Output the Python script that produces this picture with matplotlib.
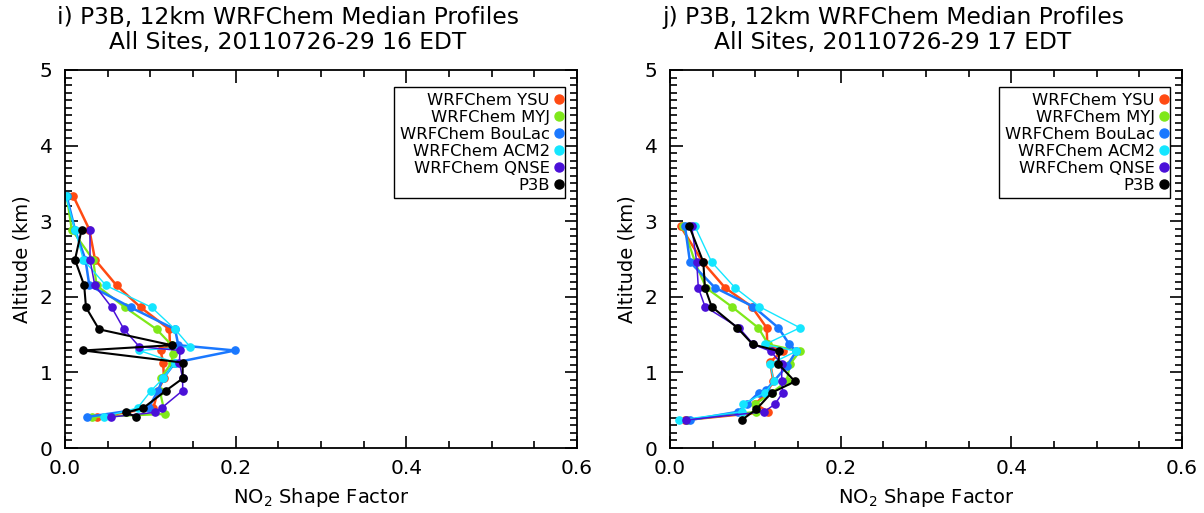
import matplotlib
matplotlib.use("Agg")
import matplotlib.pyplot as plt
from matplotlib.ticker import MultipleLocator

# ---------------- data ----------------
series_names = ["WRFChem YSU", "WRFChem MYJ", "WRFChem BouLac",
                "WRFChem ACM2", "WRFChem QNSE", "P3B"]
series_colors = ["#ff4a12", "#7fe81a", "#1a78ff", "#14e6ff", "#4a10d8", "#000000"]
series_lw = [1.8, 1.6, 1.8, 1.0, 1.1, 1.5]

titles = ["i) P3B, 12km WRFChem Median Profiles\nAll Sites, 20110726-29 16 EDT",
          "j) P3B, 12km WRFChem Median Profiles\nAll Sites, 20110726-29 17 EDT"]

# Panel i (16 EDT): shape factor values and altitudes (km)
i_ysu_x = [0.0098, 0.0285, 0.0352, 0.0605, 0.0887, 0.1223, 0.1230, 0.1120, 0.1150, 0.1160, 0.1090, 0.1035, 0.0371]
i_ysu_y = [3.33, 2.89, 2.49, 2.15, 1.86, 1.57, 1.36, 1.29, 1.13, 0.92, 0.76, 0.53, 0.41]
i_myj_x = [0.0020, 0.0078, 0.0330, 0.0371, 0.0703, 0.1074, 0.1250, 0.1260, 0.1250, 0.1120, 0.1110, 0.1172, 0.0320]
i_myj_y = [3.33, 2.89, 2.49, 2.15, 1.86, 1.57, 1.36, 1.25, 1.13, 0.92, 0.76, 0.45, 0.41]
i_bou_x = [0.0020, 0.0117, 0.0240, 0.0285, 0.0770, 0.1290, 0.1328, 0.1992, 0.1290, 0.1150, 0.1090, 0.0980, 0.0254]
i_bou_y = [3.33, 2.89, 2.49, 2.15, 1.86, 1.57, 1.36, 1.29, 1.13, 0.92, 0.76, 0.53, 0.41]
i_acm_x = [0.0010, 0.0117, 0.0215, 0.0480, 0.1016, 0.1290, 0.1465, 0.0871, 0.1290, 0.1150, 0.1010, 0.0850, 0.0457]
i_acm_y = [3.33, 2.89, 2.49, 2.15, 1.86, 1.57, 1.34, 1.29, 1.13, 0.92, 0.76, 0.53, 0.41]
i_qnse_x = [0.0293, 0.0293, 0.0350, 0.0547, 0.0691, 0.0871, 0.1348, 0.1340, 0.1379, 0.1379, 0.1133, 0.1050, 0.0539]
i_qnse_y = [2.89, 2.49, 2.15, 1.86, 1.57, 1.34, 1.29, 1.13, 0.92, 0.76, 0.53, 0.47, 0.41]
i_p3b_x = [0.0195, 0.0117, 0.0225, 0.0246, 0.0398, 0.1250, 0.0215, 0.1379, 0.1379, 0.1184, 0.0918, 0.0720, 0.0832]
i_p3b_y = [2.89, 2.49, 2.15, 1.86, 1.57, 1.36, 1.29, 1.13, 0.92, 0.76, 0.53, 0.47, 0.41]

# Panel j (17 EDT)
j_ysu_x = [0.0125, 0.0383, 0.0645, 0.0957, 0.1133, 0.1140, 0.1320, 0.1172, 0.1211, 0.1130, 0.1000, 0.1150, 0.0176]
j_ysu_y = [2.93, 2.46, 2.12, 1.87, 1.59, 1.37, 1.28, 1.14, 0.88, 0.73, 0.58, 0.48, 0.37]
j_myj_x = [0.0156, 0.0293, 0.0422, 0.0723, 0.1035, 0.1152, 0.1523, 0.1406, 0.1367, 0.1190, 0.1000, 0.1010, 0.0195]
j_myj_y = [2.93, 2.46, 2.12, 1.87, 1.59, 1.37, 1.28, 1.11, 0.88, 0.73, 0.58, 0.48, 0.37]
j_bou_x = [0.0176, 0.0234, 0.0527, 0.0977, 0.1270, 0.1400, 0.1480, 0.1367, 0.1130, 0.1040, 0.0900, 0.0800, 0.0234]
j_bou_y = [2.93, 2.46, 2.12, 1.87, 1.59, 1.37, 1.28, 1.08, 0.77, 0.73, 0.58, 0.48, 0.37]
j_acm_x = [0.0293, 0.0488, 0.0762, 0.1047, 0.1523, 0.1113, 0.1480, 0.1172, 0.1219, 0.1113, 0.0852, 0.0840, 0.0109]
j_acm_y = [2.93, 2.46, 2.12, 1.87, 1.59, 1.37, 1.28, 1.11, 0.88, 0.73, 0.58, 0.48, 0.37]
j_qnse_x = [0.0254, 0.0313, 0.0332, 0.0410, 0.0810, 0.0977, 0.1180, 0.1309, 0.1309, 0.1320, 0.1230, 0.1105, 0.0186]
j_qnse_y = [2.93, 2.46, 2.12, 1.87, 1.59, 1.37, 1.28, 1.11, 0.88, 0.73, 0.58, 0.48, 0.37]
j_p3b_x = [0.0227, 0.0390, 0.0410, 0.0488, 0.0789, 0.0970, 0.1280, 0.1270, 0.1465, 0.1190, 0.1010, 0.0840]
j_p3b_y = [2.93, 2.46, 2.12, 1.87, 1.59, 1.37, 1.28, 1.11, 0.88, 0.73, 0.51, 0.37]

panel_i = [(i_ysu_x, i_ysu_y), (i_myj_x, i_myj_y), (i_bou_x, i_bou_y),
           (i_acm_x, i_acm_y), (i_qnse_x, i_qnse_y), (i_p3b_x, i_p3b_y)]
panel_j = [(j_ysu_x, j_ysu_y), (j_myj_x, j_myj_y), (j_bou_x, j_bou_y),
           (j_acm_x, j_acm_y), (j_qnse_x, j_qnse_y), (j_p3b_x, j_p3b_y)]

x_ticks = [0.0, 0.2, 0.4, 0.6]
x_ticklabels = ["0.0", "0.2", "0.4", "0.6"]
y_ticks = [0, 1, 2, 3, 4, 5]

# ---------------- plotting ----------------
plt.rcParams["font.family"] = ["DejaVu Sans"]
fig = plt.figure(figsize=(12.04, 5.13), dpi=100)
W, H = 1204, 513
ax_boxes = [(65, 70, 577, 448), (670, 70, 1182, 448)]
title_cx = [288, 893]

for k, (panel, title) in enumerate(zip([panel_i, panel_j], titles)):
    x0, y0, x1, y1 = ax_boxes[k]
    ax = fig.add_axes([x0 / W, 1 - y1 / H, (x1 - x0) / W, (y1 - y0) / H])
    for (xs, ys), name, c, lw in zip(panel, series_names, series_colors, series_lw):
        ax.plot(xs, ys, color=c, lw=lw, marker="o", ms=5.2, mec=c, mfc=c,
                label=name)
    ax.set_xlim(0, 0.6)
    ax.set_ylim(0, 5)
    ax.set_xticks(x_ticks)
    ax.set_xticklabels(x_ticklabels)
    ax.set_yticks(y_ticks)
    ax.xaxis.set_minor_locator(MultipleLocator(0.05))
    ax.yaxis.set_minor_locator(MultipleLocator(0.1))
    ax.tick_params(which="both", direction="in", top=True, right=True,
                   labelsize=14.5, width=1.2)
    ax.tick_params(axis="x", pad=8)
    ax.tick_params(axis="y", pad=9)
    ax.tick_params(which="major", length=9)
    ax.tick_params(which="minor", length=5)
    for s in ax.spines.values():
        s.set_linewidth(1.3)
    ax.set_xlabel("NO$_2$ Shape Factor", fontsize=14, labelpad=6)
    ax.set_ylabel("Altitude (km)", fontsize=14, labelpad=6)
    fig.text(title_cx[k] / W, 1 - 6 / H, title, fontsize=16.8,
             linespacing=1.12, ha="center", va="top", multialignment="center")
    leg = ax.legend(loc="upper right", bbox_to_anchor=(0.977, 0.955),
                    borderaxespad=0, markerfirst=False, handlelength=0,
                    handletextpad=0.6, fontsize=11.8, labelspacing=0.12,
                    fancybox=False, framealpha=1, edgecolor="black",
                    borderpad=0.35)
    leg.get_frame().set_linewidth(1.0)
    for h in leg.legend_handles:
        h.set_linestyle("none")
        h.set_markersize(6.5)

fig.savefig("out.png", dpi=100)
